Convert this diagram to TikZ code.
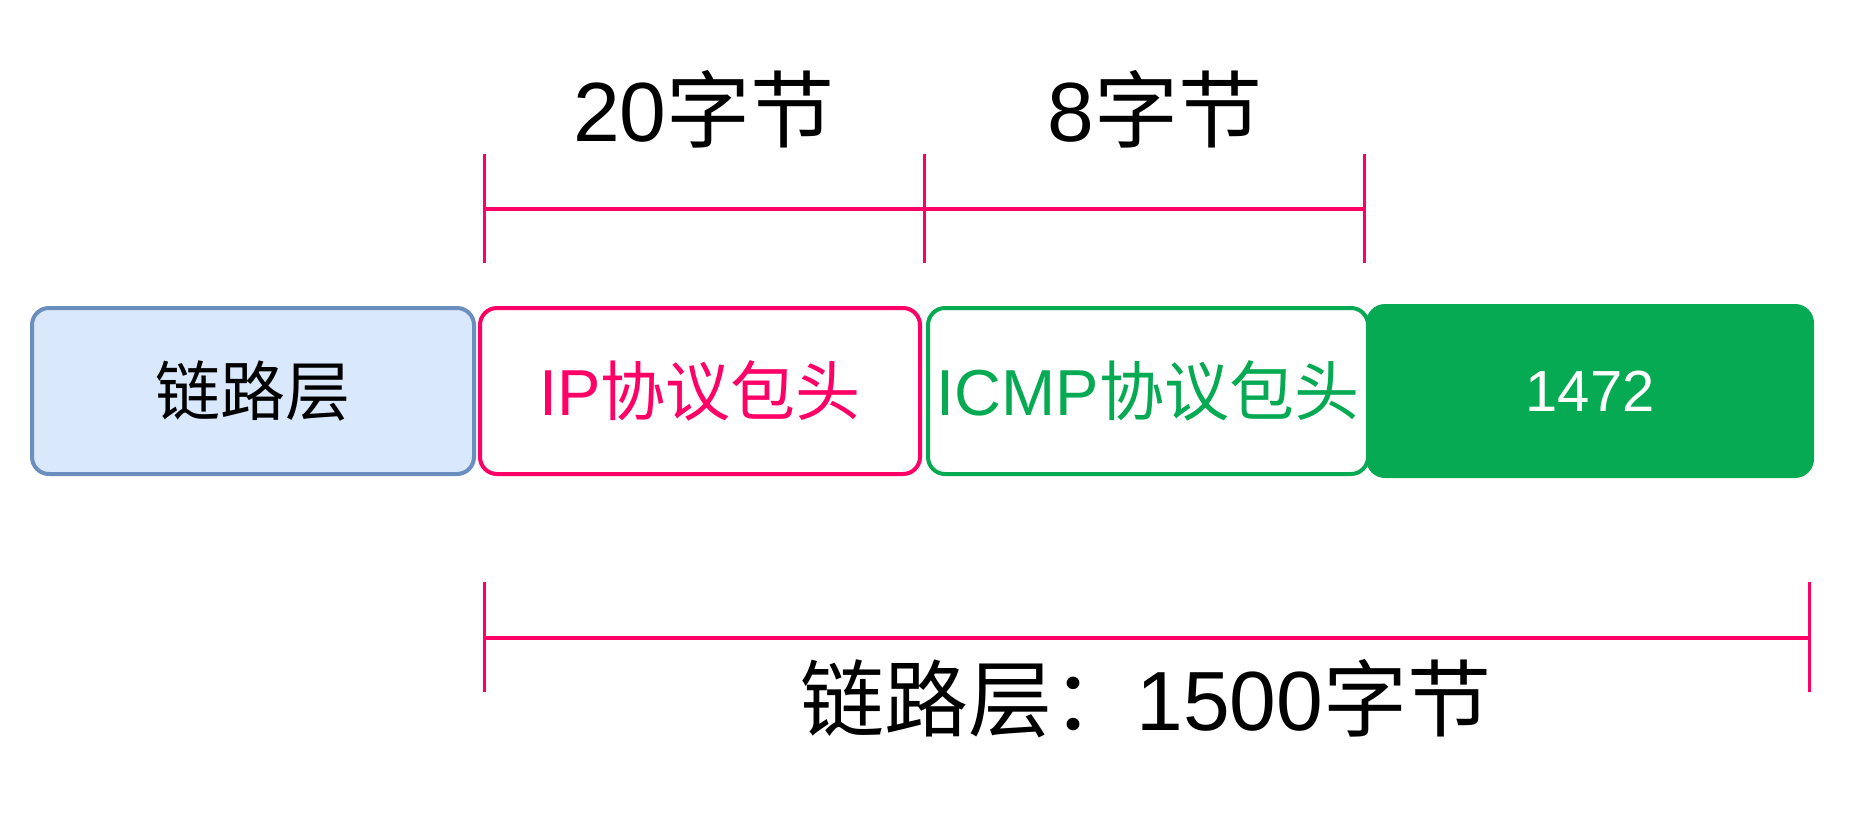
\documentclass[tikz,border=0pt]{standalone}
\usepackage{fontspec}
\setmainfont{Liberation Sans}
\newfontfamily\cjk{Noto Sans CJK SC}
\definecolor{linkfill}{HTML}{DAE8FC}
\definecolor{linkdraw}{HTML}{6C8EBF}
\definecolor{ipred}{HTML}{FF0066}
\definecolor{icmpgreen}{HTML}{05AA52}
\tikzset{
  seg/.style={rounded corners=17pt, line width=4pt, minimum height=166pt, inner sep=0pt},
  boxtext/.style={font=\fontsize{65}{78}\selectfont},
  bigtext/.style={font=\fontsize{84}{100}\selectfont, inner sep=0pt},
  tick/.style={ipred, line width=3pt},
  span/.style={ipred, line width=4pt}
}
\begin{document}
\begin{tikzpicture}[x=1pt,y=-1pt]
\useasboundingbox (0,0) rectangle (1852,812);
% segments
\node[seg, boxtext, draw=linkdraw, fill=linkfill, minimum width=442pt] (link) at (253,391) {\cjk 链路层};
\node[seg, boxtext, draw=ipred, fill=white, text=ipred, minimum width=440pt] (ip) at (700,391) {IP{\cjk 协议包头}};
\node[seg, boxtext, draw=icmpgreen, fill=white, text=icmpgreen, minimum width=440pt] (icmp) at (1148,391) {ICMP{\cjk 协议包头}};
\node[seg, boxtext, draw=icmpgreen, fill=icmpgreen, text=white, minimum width=444pt, minimum height=170pt, font=\fontsize{58}{70}\selectfont] (data) at (1590,391) {1472};
% top bracket
\coordinate (t1a) at (484,154); \coordinate (t1b) at (484,263);
\coordinate (t2a) at (924,154); \coordinate (t2b) at (924,263);
\coordinate (t3a) at (1364,154); \coordinate (t3b) at (1364,263);
\coordinate (t1m) at (484,209); \coordinate (t3m) at (1364,209);
\draw[tick] (t1a) -- (t1b);
\draw[tick] (t2a) -- (t2b);
\draw[tick] (t3a) -- (t3b);
\draw[span] (t1m) -- (t3m);
\node[bigtext] (l20) at (704,109) {20{\cjk 字节}};
\node[bigtext] (l8) at (1155,109) {8{\cjk 字节}};
% bottom bracket
\coordinate (b1a) at (484,582); \coordinate (b1b) at (484,692);
\coordinate (b2a) at (1809,582); \coordinate (b2b) at (1809,692);
\coordinate (b1m) at (484,638); \coordinate (b2m) at (1809,638);
\draw[tick] (b1a) -- (b1b);
\draw[tick] (b2a) -- (b2b);
\draw[span] (b1m) -- (b2m);
\node[bigtext] (l1500) at (1146,699) {{\cjk 链路层：}1500{\cjk 字节}};
\end{tikzpicture}
\end{document}
